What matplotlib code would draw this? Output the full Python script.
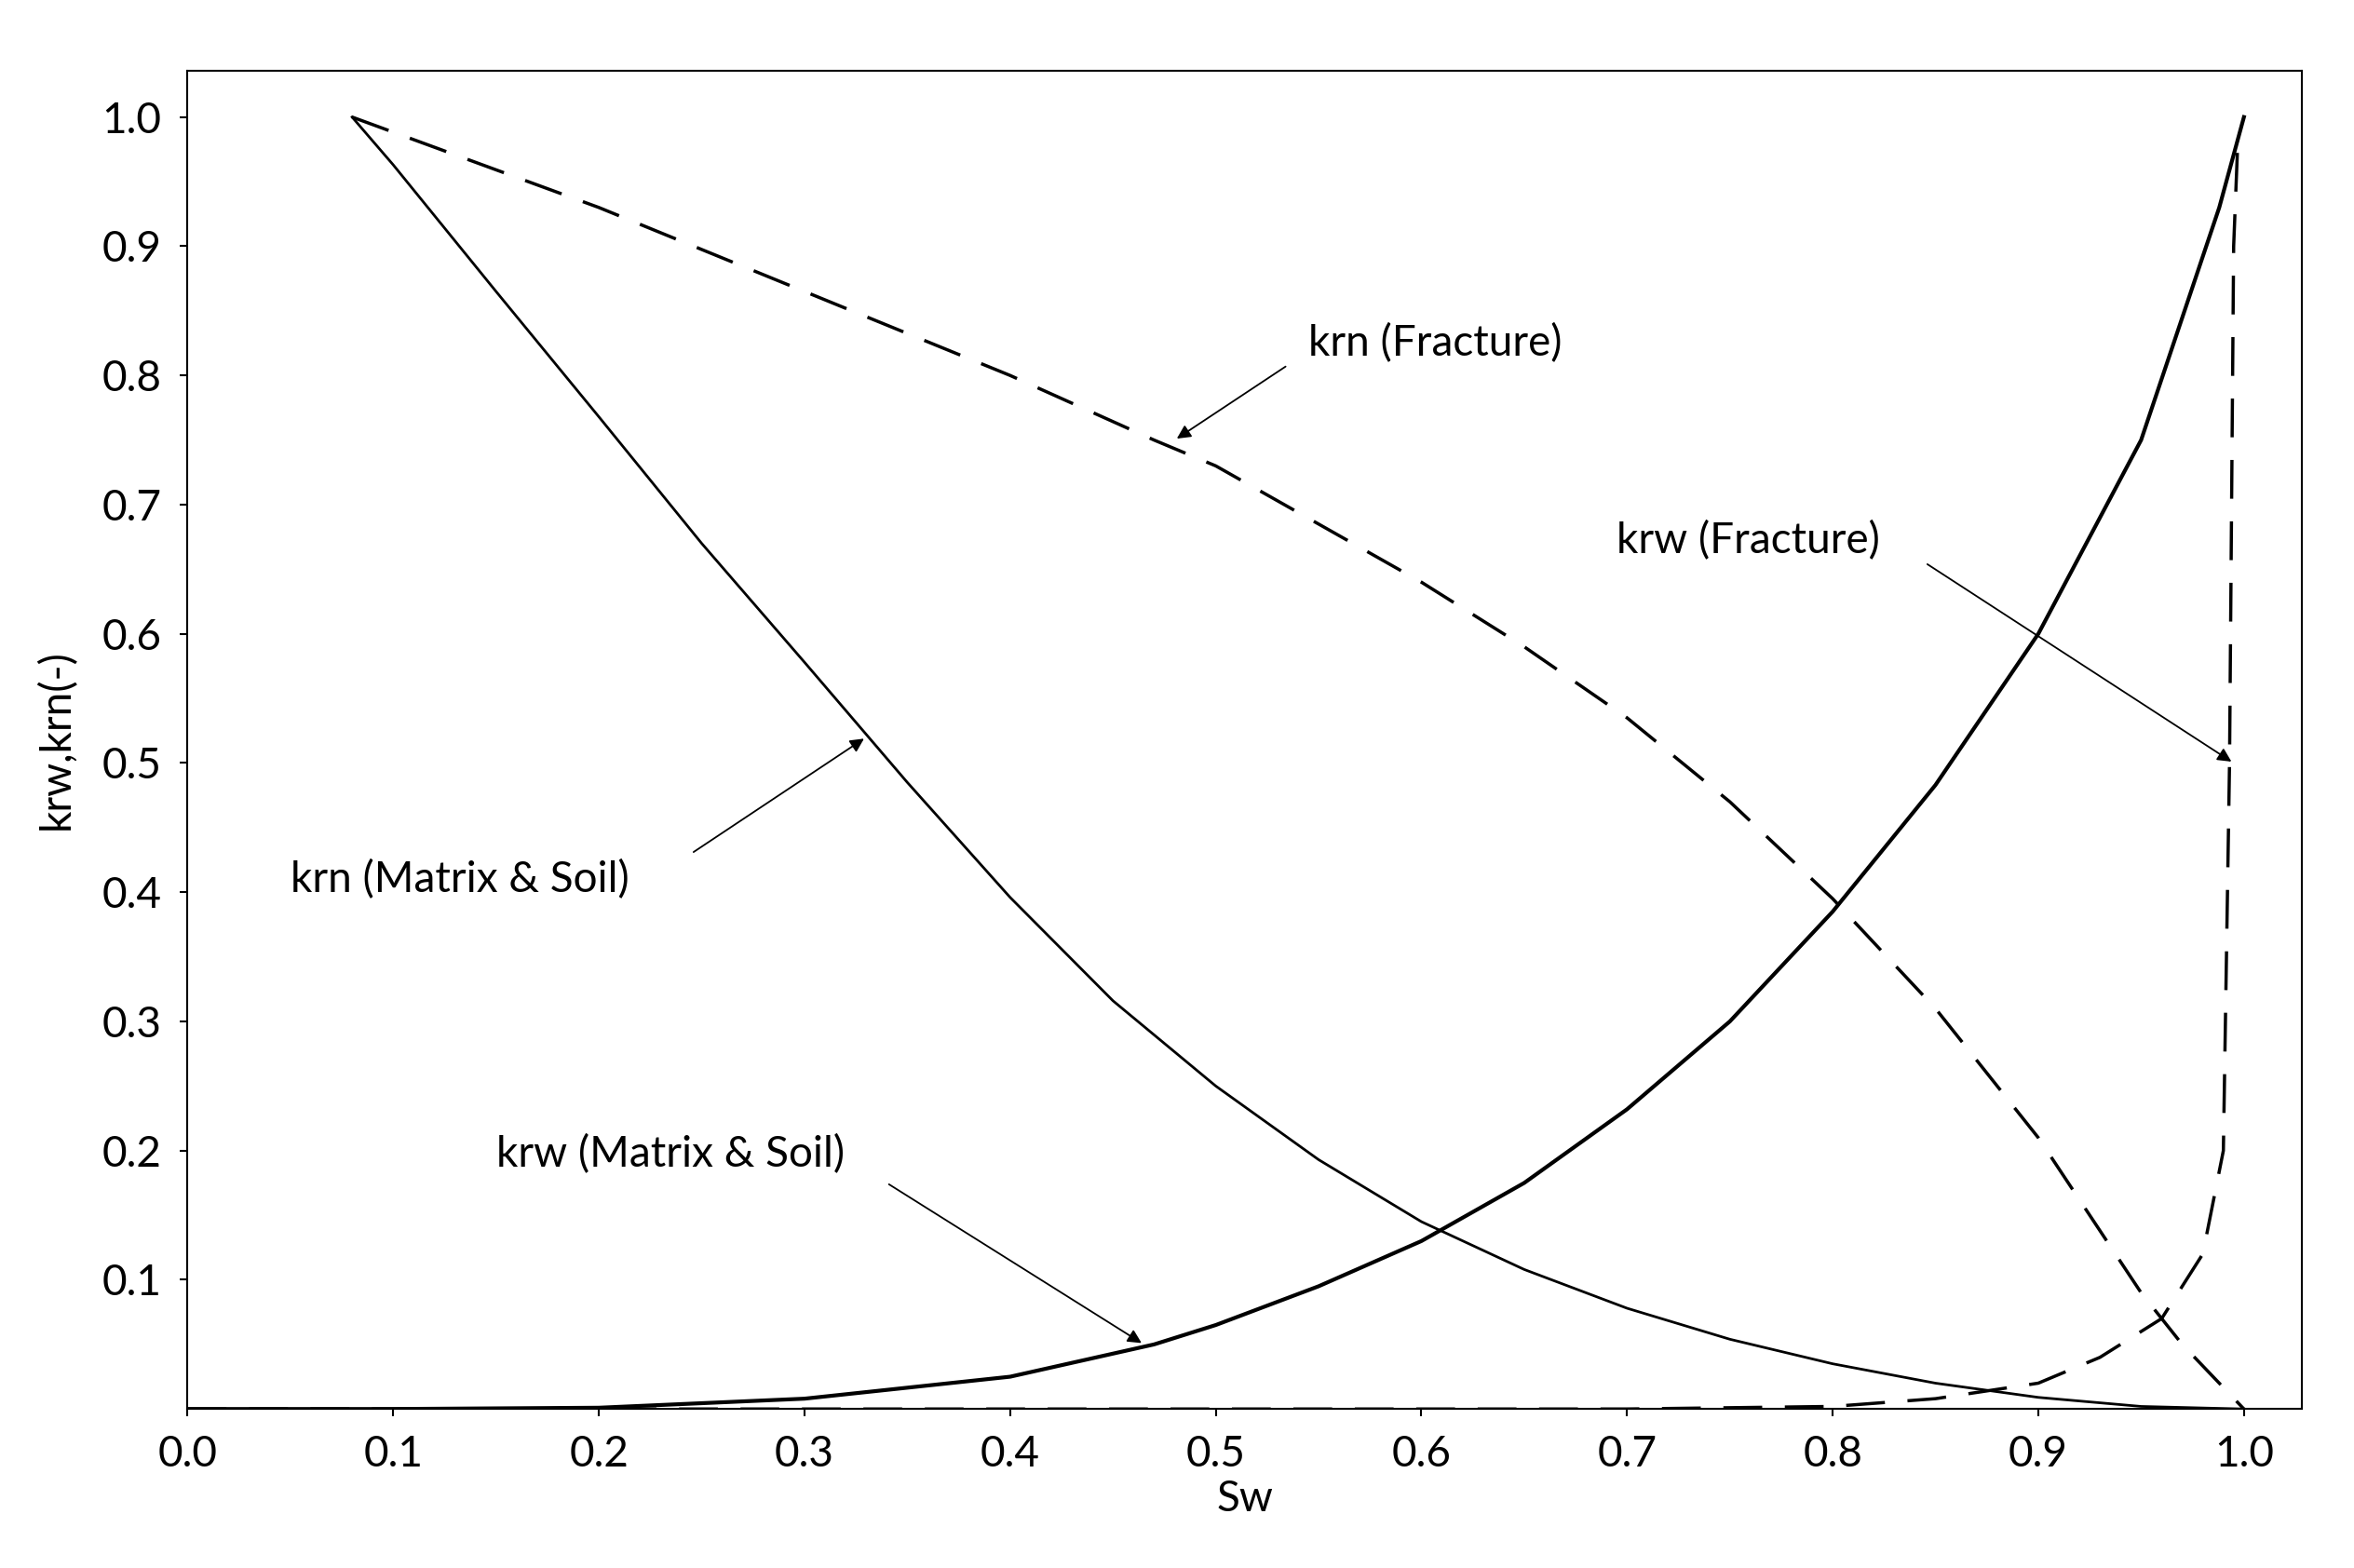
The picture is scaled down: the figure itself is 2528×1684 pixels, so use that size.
import matplotlib
matplotlib.use("Agg")
import matplotlib.pyplot as plt

plt.rcParams['font.family'] = ['Lato', 'DejaVu Sans']

sw_krn_m = [0.08, 0.1, 0.15, 0.2, 0.25, 0.3, 0.35, 0.4, 0.45, 0.5, 0.55, 0.6, 0.65, 0.7, 0.75, 0.8, 0.85, 0.9, 0.95, 1.0]
krn_m = [1.0, 0.963, 0.865, 0.768, 0.67, 0.578, 0.485, 0.396, 0.316, 0.25, 0.193, 0.145, 0.108, 0.078, 0.054, 0.035, 0.02, 0.009, 0.002, 0.0]

sw_krw_m = [0.0, 0.1, 0.2, 0.3, 0.4, 0.47, 0.5, 0.55, 0.6, 0.65, 0.7, 0.75, 0.8, 0.85, 0.9, 0.95, 0.988, 1.0]
krw_m = [0.0, 0.0, 0.001, 0.008, 0.025, 0.05, 0.065, 0.095, 0.13, 0.175, 0.232, 0.3, 0.385, 0.483, 0.6, 0.75, 0.93, 1.0]

sw_krn_f = [0.08, 0.2, 0.3, 0.4, 0.47, 0.5, 0.6, 0.65, 0.7, 0.75, 0.8, 0.85, 0.9, 0.95, 0.97, 1.0]
krn_f = [1.0, 0.93, 0.865, 0.8, 0.75, 0.73, 0.64, 0.59, 0.535, 0.47, 0.395, 0.31, 0.21, 0.09, 0.05, 0.0]

sw_krw_f = [0.0, 0.7, 0.8, 0.85, 0.9, 0.93, 0.96, 0.98, 0.99, 0.993, 0.995, 0.997]
krw_f = [0.0, 0.0, 0.002, 0.008, 0.02, 0.04, 0.07, 0.12, 0.2, 0.5, 0.9, 0.98]

fig = plt.figure(figsize=(25.28, 16.84), dpi=100)
ax = fig.add_axes([0.0797, 0.1014, 0.898, 0.8536])
ax.plot(sw_krn_m, krn_m, color='black', lw=2)
ax.plot(sw_krw_m, krw_m, color='black', lw=3)
ax.plot(sw_krn_f, krn_f, color='black', lw=2.5, dashes=(12, 7))
ax.plot(sw_krw_f, krw_f, color='black', lw=2.5, dashes=(12, 7))

ax.set_xlim(0, 1.028)
ax.set_ylim(0, 1.036)
ax.set_xticks([i/10 for i in range(11)])
ax.set_xticklabels([f"{i/10:.1f}" for i in range(11)])
ax.set_yticks([i/10 for i in range(1, 11)])
ax.set_yticklabels([f"{i/10:.1f}" for i in range(1, 11)])
ax.tick_params(labelsize=33, length=6, width=1.5, pad=14)
for s in ax.spines.values():
    s.set_linewidth(1.5)
ax.set_xlabel("Sw", fontsize=33, labelpad=4)
ax.set_ylabel("krw,krn(-)", fontsize=33, labelpad=20)

ap = dict(arrowstyle='-|>', color='black', lw=1.3, mutation_scale=22)
fs = 33
ax.text(0.545, 0.825, "krn (Fracture)", fontsize=fs, ha='left', va='center')
ax.annotate("", xy=(0.48, 0.75), xytext=(0.535, 0.808), arrowprops=ap)
ax.text(0.695, 0.672, "krw (Fracture)", fontsize=fs, ha='left', va='center')
ax.annotate("", xy=(0.995, 0.5), xytext=(0.845, 0.655), arrowprops=ap)
ax.text(0.05, 0.41, "krn (Matrix & Soil)", fontsize=fs, ha='left', va='center')
ax.annotate("", xy=(0.33, 0.52), xytext=(0.245, 0.43), arrowprops=ap)
ax.text(0.15, 0.197, "krw (Matrix & Soil)", fontsize=fs, ha='left', va='center')
ax.annotate("", xy=(0.465, 0.05), xytext=(0.34, 0.175), arrowprops=ap)

fig.savefig("out.png", dpi=100)
